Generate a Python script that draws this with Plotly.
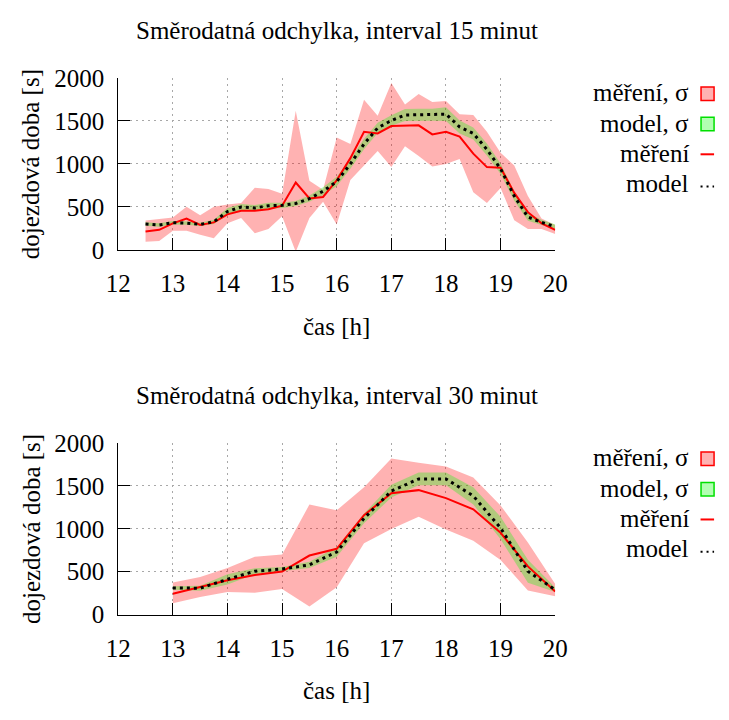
import plotly.graph_objects as go

# ---------------- data ----------------
# 15-minute interval
t15 = [12.5, 12.75, 13.0, 13.25, 13.5, 13.75, 14.0, 14.25, 14.5, 14.75, 15.0, 15.25, 15.5, 15.75,
       16.0, 16.25, 16.5, 16.75, 17.0, 17.25, 17.5, 17.75, 18.0, 18.25, 18.5, 18.75, 19.0, 19.25,
       19.5, 19.75, 20.0]
meas15 = [216, 235, 310, 366, 291, 321, 414, 455, 455, 474, 515, 784, 600, 616,
          810, 1067, 1373, 1354, 1440, 1448, 1448, 1343, 1373, 1317, 1119, 963, 955, 664,
          440, 310, 235]
meas15_hi = [343, 362, 377, 504, 403, 504, 530, 545, 724, 709, 653, 1616, 806, 701,
             1306, 1231, 1746, 1560, 1940, 1690, 1813, 1720, 1731, 1578, 1567, 1373, 1130, 981,
             627, 366, 291]
meas15_lo = [97, 104, 224, 224, 179, 138, 310, 373, 194, 246, 392, -20, 373, 560,
             298, 813, 981, 1149, 963, 1205, 1093, 970, 1000, 1056, 672, 545, 720, 347,
             246, 246, 187]
model15 = [302, 291, 317, 313, 298, 328, 448, 500, 489, 515, 519, 541, 597, 683,
           795, 1000, 1231, 1418, 1504, 1567, 1571, 1571, 1578, 1429, 1354, 1168, 944, 627,
           384, 321, 272]
model15_sd = [20, 20, 20, 20, 20, 25, 40, 35, 35, 35, 30, 30, 35, 45,
              55, 55, 60, 60, 60, 70, 70, 70, 80, 75, 70, 70, 60, 55,
              45, 30, 25]

# 30-minute interval
t30 = [13.0, 13.5, 14.0, 14.5, 15.0, 15.5, 16.0, 16.5, 17.0, 17.5, 18.0, 18.5, 19.0, 19.5, 20.0]
meas30 = [243, 318, 400, 460, 501, 688, 766, 1159, 1413, 1450, 1357, 1226, 953, 561, 269]
meas30_hi = [374, 437, 542, 673, 699, 1282, 1215, 1484, 1820, 1768, 1727, 1596, 1271, 841, 355]
meas30_lo = [131, 206, 262, 254, 299, 93, 318, 830, 998, 1140, 991, 860, 635, 280, 213]
model30 = [310, 307, 411, 505, 531, 579, 729, 1121, 1439, 1581, 1581, 1383, 1009, 505, 288]
model30_sd = [20, 30, 60, 35, 22, 37, 55, 56, 75, 75, 75, 100, 130, 135, 26]

x_ticks = [12, 13, 14, 15, 16, 17, 18, 19, 20]
y_ticks = [0, 500, 1000, 1500, 2000]
titles = ["Směrodatná odchylka, interval 15 minut", "Směrodatná odchylka, interval 30 minut"]
legend_labels = ["měření, σ", "model, σ", "měření", "model"]
x_title = "čas [h]"
y_title = "dojezdová doba [s]"

# ---------------- styling ----------------
W, H = 729, 720
FONT = "Liberation Serif, Times New Roman, serif"
FS = 25
RED_FILL = "rgba(255,0,0,0.3)"
GREEN_FILL = "rgba(0,255,0,0.3)"


def px(x):
    return x / W


def py(y):
    return 1 - y / H


fig = go.Figure()

panels = [
    dict(t=t15, m=meas15, mhi=meas15_hi, mlo=meas15_lo, mod=model15, sd=model15_sd,
         xa="x", ya="y", top=67.3, bottom=246.3),
    dict(t=t30, m=meas30, mhi=meas30_hi, mlo=meas30_lo, mod=model30, sd=model30_sd,
         xa="x2", ya="y2", top=446.7, bottom=625.0),
]

for p in panels:
    t = p["t"]
    # measurement sigma band
    fig.add_trace(go.Scatter(x=t + t[::-1], y=p["mhi"] + p["mlo"][::-1], fill="toself",
                             fillcolor=RED_FILL, line=dict(width=0), mode="lines",
                             xaxis=p["xa"], yaxis=p["ya"], showlegend=False, hoverinfo="skip"))
    # model sigma band
    mhi = [m + s for m, s in zip(p["mod"], p["sd"])]
    mlo = [m - s for m, s in zip(p["mod"], p["sd"])]
    fig.add_trace(go.Scatter(x=t + t[::-1], y=mhi + mlo[::-1], fill="toself",
                             fillcolor=GREEN_FILL, line=dict(width=0), mode="lines",
                             xaxis=p["xa"], yaxis=p["ya"], showlegend=False, hoverinfo="skip"))
    # measurement line
    fig.add_trace(go.Scatter(x=t, y=p["m"], mode="lines", line=dict(color="red", width=2),
                             xaxis=p["xa"], yaxis=p["ya"], showlegend=False))
    # model line
    fig.add_trace(go.Scatter(x=t, y=p["mod"], mode="lines",
                             line=dict(color="black", width=3, dash="3px,4px"),
                             xaxis=p["xa"], yaxis=p["ya"], showlegend=False))

axis_common = dict(
    showline=True, linecolor="black", linewidth=1,
    ticks="inside", ticklen=12, tickcolor="black", tickwidth=1,
    showgrid=True, gridcolor="#a8a8a8", gridwidth=1, griddash="2px,4px",
    zeroline=False, tickfont=dict(family=FONT, size=FS, color="black"),
)

x0, x1 = 110, 562.5
layout = dict(
    width=W, height=H, margin=dict(l=0, r=0, t=0, b=0),
    paper_bgcolor="white", plot_bgcolor="white", showlegend=False,
    font=dict(family=FONT, color="black"),
)
for i, p in enumerate(panels):
    sfx = "" if i == 0 else "2"
    layout["xaxis" + sfx] = dict(axis_common, domain=[px(x0), px(x1)], range=[12, 20],
                                 tickvals=x_ticks, anchor="y" + sfx, ticklabelstandoff=11)
    layout["yaxis" + sfx] = dict(axis_common, domain=[py(p["bottom"]), py(p["top"])],
                                 range=[0, 2000], tickvals=y_ticks, anchor="x" + sfx,
                                 ticklabelstandoff=8)
fig.update_layout(**layout)

annotations = []
shapes = []
for i, p in enumerate(panels):
    top, bottom = p["top"], p["bottom"]
    cx = (x0 + x1) / 2
    annotations.append(dict(text=titles[i], x=px(cx), y=py(top - 49), xref="paper", yref="paper",
                            xanchor="center", yanchor="middle", showarrow=False,
                            font=dict(family=FONT, size=FS)))
    annotations.append(dict(text=x_title, x=px(cx), y=py(bottom + 79), xref="paper", yref="paper",
                            xanchor="center", yanchor="middle", showarrow=False,
                            font=dict(family=FONT, size=FS)))
    annotations.append(dict(text=y_title, x=px(20), y=py((top + bottom) / 2), xref="paper",
                            yref="paper", xanchor="center", yanchor="middle", showarrow=False,
                            textangle=-90, font=dict(family=FONT, size=FS)))
    rows = [top + 16.5 + 31.5 * k for k in range(4)]
    for k, lab in enumerate(legend_labels):
        annotations.append(dict(text=lab, x=px(703), y=py(rows[k] - 1), xref="paper", yref="paper",
                                xanchor="right", yanchor="middle", showarrow=False,
                                font=dict(family=FONT, size=FS)))
    shapes.append(dict(type="rect", xref="paper", yref="paper",
                       x0=px(713.5), x1=px(727), y0=py(rows[0] + 7), y1=py(rows[0] - 7),
                       fillcolor=RED_FILL, line=dict(color="red", width=1.5)))
    shapes.append(dict(type="rect", xref="paper", yref="paper",
                       x0=px(713.5), x1=px(727), y0=py(rows[1] + 7), y1=py(rows[1] - 7),
                       fillcolor=GREEN_FILL, line=dict(color="#00e000", width=1.5)))
    shapes.append(dict(type="line", xref="paper", yref="paper",
                       x0=px(713), x1=px(727), y0=py(rows[2]), y1=py(rows[2]),
                       line=dict(color="red", width=2)))
    shapes.append(dict(type="line", xref="paper", yref="paper",
                       x0=px(713), x1=px(727), y0=py(rows[3] + 2), y1=py(rows[3] + 2),
                       line=dict(color="black", width=2, dash="2px,4px")))

fig.update_layout(annotations=annotations, shapes=shapes)
fig.write_html("out.html", post_script="document.body.style.margin='0px';")
